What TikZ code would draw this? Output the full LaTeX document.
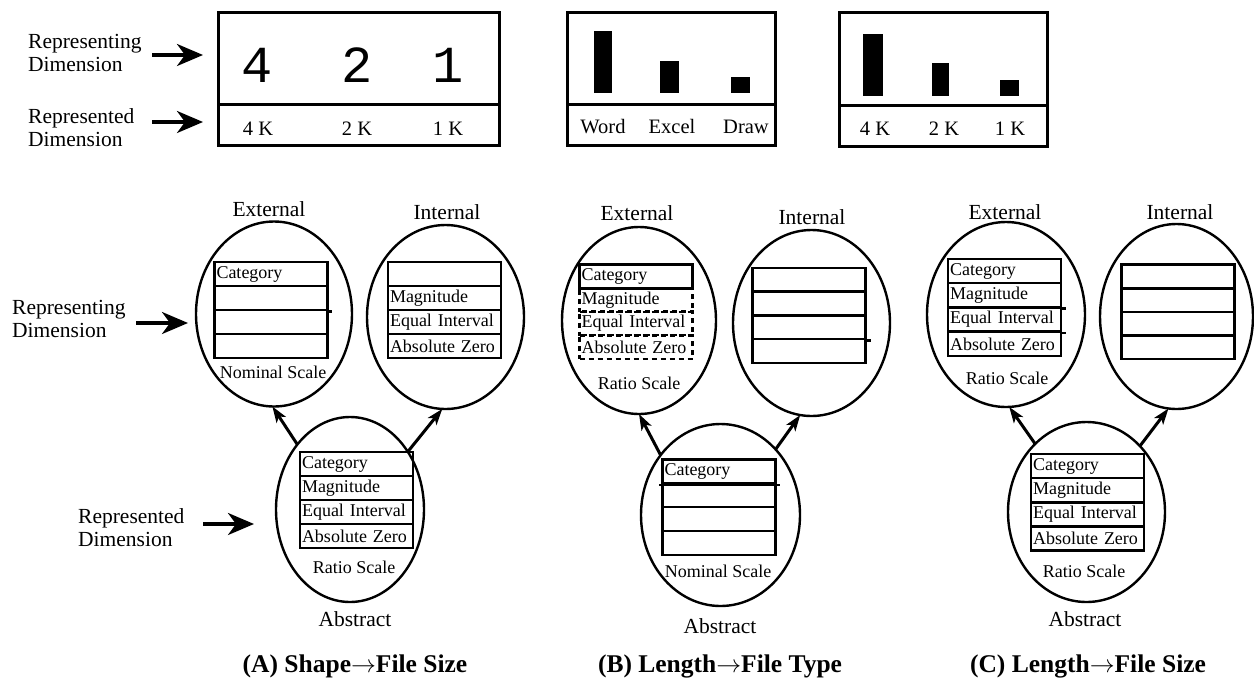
\documentclass[tikz,border=0pt]{standalone}
\usepackage{fontspec}
\setmainfont{Liberation Serif}
\newfontfamily\digitfont{Liberation Mono}
\usetikzlibrary{shapes.geometric,arrows.meta}
\begin{document}
\begin{tikzpicture}[x=1pt,y=-1pt,
 lab/.style={font=\fontsize{21.5}{23}\selectfont, inner sep=0pt, align=left},
 ell/.style={ellipse, draw, line width=2.4pt, inner sep=0pt, outer sep=0pt},
 row/.style={draw, line width=2.8pt, minimum width=113pt, minimum height=24pt, text width=109pt, align=left, inner xsep=2pt, inner ysep=3pt, font=\fontsize{18}{18}\selectfont},
 drow/.style={row, dash pattern=on 5pt off 4pt},
 scl/.style={font=\fontsize{18}{18}\selectfont, inner sep=0pt},
 bigarrow/.style={line width=3.3pt, -{Stealth[length=26pt,width=22pt,inset=8pt]}},
 link/.style={line width=3pt, -{Stealth[length=16pt,width=11pt,inset=4pt]}},
 box/.style={draw, line width=3pt, inner sep=0pt, outer sep=0pt},
 bar/.style={fill=black, inner sep=0pt, outer sep=0pt},
 blab/.style={font=\fontsize{20.5}{20.5}\selectfont, inner sep=0pt, anchor=base},
 dig/.style={font=\fontsize{52}{52}\digitfont, inner sep=0pt},
 title/.style={font=\fontsize{25.5}{26}\selectfont\bfseries, inner sep=0pt},
 ext/.style={line width=2.8pt}
]
\useasboundingbox (0,0) rectangle (1254,681);

% ---------- top boxes ----------
\node[box, minimum width=281pt, minimum height=92pt] (topA) at (358.5,58) {};
\node[box, minimum width=281pt, minimum height=41pt] (botA) at (358.5,124.5) {};
\node[dig] (d4) at (257,65) {4};
\node[dig] (d2) at (357,65) {2};
\node[dig] (d1) at (448,65) {1};
\node[blab] (kA4) at (258,135) {4 K};
\node[blab] (kA2) at (357,135) {2 K};
\node[blab] (kA1) at (448,135) {1 K};

\node[box, minimum width=208pt, minimum height=92pt] (topB) at (671,58) {};
\node[box, minimum width=208pt, minimum height=41pt] (botB) at (671,124.5) {};
\node[bar, minimum width=18pt, minimum height=62pt] (barB1) at (603,62) {};
\node[bar, minimum width=19pt, minimum height=32pt] (barB2) at (669.5,77) {};
\node[bar, minimum width=19pt, minimum height=16pt] (barB3) at (740.5,85) {};
\node[blab] (wB1) at (603,133.5) {Word};
\node[blab] (wB2) at (672,133.5) {Excel};
\node[blab] (wB3) at (746,133.5) {Draw};

\node[box, minimum width=208pt, minimum height=93pt] (topC) at (943,58.5) {};
\node[box, minimum width=208pt, minimum height=41pt] (botC) at (943,125.5) {};
\node[bar, minimum width=20pt, minimum height=62pt] (barC1) at (873,65) {};
\node[bar, minimum width=17pt, minimum height=33pt] (barC2) at (940.5,79.5) {};
\node[bar, minimum width=19pt, minimum height=16pt] (barC3) at (1009.5,88) {};
\node[blab] (kC4) at (875,135) {4 K};
\node[blab] (kC2) at (944,135) {2 K};
\node[blab] (kC1) at (1010,135) {1 K};

% ---------- left labels ----------
\node[lab, anchor=west] (repT) at (28,53) {Representing\\Dimension};
\node[lab, anchor=west] (redT) at (28,128) {Represented\\Dimension};
\node[lab, anchor=west] (repM) at (12,319) {Representing\\Dimension};
\node[lab, anchor=west] (redM) at (78,528) {Represented\\Dimension};
\coordinate (a1s) at (152,55); \coordinate (a1e) at (203,55);
\coordinate (a2s) at (152,122); \coordinate (a2e) at (203,122);
\coordinate (a3s) at (136,323); \coordinate (a3e) at (188,323);
\coordinate (a4s) at (203,524); \coordinate (a4e) at (254,524);
\draw[bigarrow] (a1s) -- (a1e);
\draw[bigarrow] (a2s) -- (a2e);
\draw[bigarrow] (a3s) -- (a3e);
\draw[bigarrow] (a4s) -- (a4e);

% ---------- panel A ----------
\node[ell, minimum width=156pt, minimum height=185pt] (extA) at (274,314) {};
\node[ell, minimum width=157pt, minimum height=184pt] (intA) at (445.5,317) {};
\node[ell, minimum width=148pt, minimum height=185pt] (absA) at (350,509.5) {};
\node[lab] (extAl) at (269,209) {External};
\node[lab] (intAl) at (447,212) {Internal};
\node[lab] (absAl) at (355,619) {Abstract};

\node[row] (eA1) at (271,274) {Category};
\node[row] (eA2) at (271,298) {};
\node[row] (eA3) at (271,322) {};
\node[row] (eA4) at (271,346) {};
\draw[ext] (eA2.south east) -- ++(3,0);
\node[scl] (eAs) at (273,372) {Nominal Scale};

\node[row] (iA1) at (444.5,274) {};
\node[row] (iA2) at (444.5,298) {Magnitude};
\node[row] (iA3) at (444.5,322) {Equal Interval};
\node[row] (iA4) at (444.5,346) {Absolute Zero};

\node[row] (bA1) at (356.5,464) {Category};
\node[row] (bA2) at (356.5,488) {Magnitude};
\node[row] (bA3) at (356.5,512) {Equal Interval};
\node[row] (bA4) at (356.5,536) {Absolute Zero};
\node[scl] (bAs) at (354,567) {Ratio Scale};

\draw[link] (absA.129) -- (extA.269);
\draw[link] (absA.45) -- (intA.268);

% ---------- panel B ----------
\node[ell, minimum width=154pt, minimum height=187pt] (extB) at (639,320.5) {};
\node[ell, minimum width=157pt, minimum height=186pt] (intB) at (811.5,323) {};
\node[ell, minimum width=159pt, minimum height=182pt] (absB) at (720.5,515) {};
\node[lab] (extBl) at (637,213) {External};
\node[lab] (intBl) at (812,217) {Internal};
\node[lab] (absBl) at (720,626) {Abstract};

\node[drow] (eB2) at (636,300) {Magnitude};
\node[drow] (eB3) at (636,323.5) {Equal Interval};
\node[drow] (eB4) at (636,347) {Absolute Zero};
\node[row] (eB1) at (636,276.5) {Category};
\node[scl] (eBs) at (639,383) {Ratio Scale};

\node[row] (iB1) at (809,280) {};
\node[row] (iB2) at (809,303.5) {};
\node[row] (iB3) at (809,327) {};
\node[row] (iB4) at (809,351) {};
\draw[ext] (iB3.south east) -- ++(4,0);

\node[row] (bB1) at (719,471.5) {Category};
\node[row] (bB2) at (719,495) {};
\node[row] (bB3) at (719,519) {};
\node[row] (bB4) at (719,543) {};
\draw[ext] ([xshift=-2pt]bB1.south west) -- ([xshift=3pt]bB1.south east);
\node[scl] (bBs) at (718,571) {Nominal Scale};

\draw[link] (absB.135) -- (extB.270);
\draw[link] (absB.50) -- (intB.263);

% ---------- panel C ----------
\node[ell, minimum width=158pt, minimum height=185pt] (extC) at (1006,314.5) {};
\node[ell, minimum width=153pt, minimum height=185pt] (intC) at (1176.5,316.5) {};
\node[ell, minimum width=157pt, minimum height=180pt] (absC) at (1086.5,512) {};
\node[lab] (extCl) at (1005,212) {External};
\node[lab] (intCl) at (1180,212) {Internal};
\node[lab] (absCl) at (1085,619) {Abstract};

\node[row] (eC1) at (1004.5,271) {Category};
\node[row] (eC2) at (1004.5,295) {Magnitude};
\node[row] (eC3) at (1004.5,319.5) {Equal Interval};
\node[row] (eC4) at (1004.5,344) {Absolute Zero};
\draw[ext] (eC2.south east) -- ++(4,0);
\draw[ext] (eC3.south east) -- ++(4,0);
\node[scl] (eCs) at (1007,378) {Ratio Scale};

\node[row] (iC1) at (1178,276.5) {};
\node[row] (iC2) at (1178,300) {};
\node[row] (iC3) at (1178,324) {};
\node[row] (iC4) at (1178,347) {};

\node[row] (bC1) at (1087.5,466) {Category};
\node[row] (bC2) at (1087.5,490) {Magnitude};
\node[row] (bC3) at (1087.5,514.5) {Equal Interval};
\node[row] (bC4) at (1087.5,538.5) {Absolute Zero};
\node[scl] (bCs) at (1084,571) {Ratio Scale};

\draw[link] (absC.127) -- (extC.272);
\draw[link] (absC.51) -- (intC.265);

% ---------- titles ----------
\node[title] (tA) at (355,666) {(A) Shape$\rightarrow$File Size};
\node[title] (tB) at (720,666) {(B) Length$\rightarrow$File Type};
\node[title] (tC) at (1088,666) {(C) Length$\rightarrow$File Size};
\end{tikzpicture}
\end{document}
